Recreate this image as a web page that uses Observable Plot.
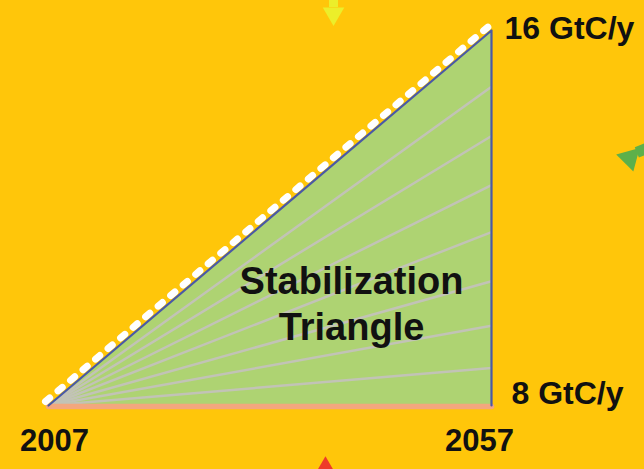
<!DOCTYPE html>
<html><head><meta charset="utf-8">
<script src="https://cdn.jsdelivr.net/npm/d3@7"></script>
<script src="https://cdn.jsdelivr.net/npm/@observablehq/plot@0.6"></script>
<style>html,body{margin:0;padding:0;background:#FFC60A;overflow:hidden}</style>
</head><body><div id="chart"></div>
<script>
// Data
const years = [2007, 2057];
const pathValues = [8, 16];        // emissions path (GtC/y)
const flatValues = [8, 8];         // flat path (GtC/y)
const wedgeEnds = [14.8, 13.75, 12.7, 11.7, 10.65, 9.7, 8.8];
const valueLabels = ["16 GtC/y", "8 GtC/y"];
const yearLabels = ["2007", "2057"];
const centerLabel = "Stabilization\nTriangle";
// decorative pointers from the surrounding diagram (data coords)
const yellowPointer = {x: 2039.17, y: 16.36};
const greenPointer = {x: 2072.6, y: 13.28};
const redPointer = {x: 2038.26, y: 6.72};
const yellowShaft = {x1: 2039.17, y1: 16.8, x2: 2039.17, y2: 16.5};
const greenShaft = {x1: 2073.4, y1: 13.4, x2: 2076.0, y2: 13.6};

const tri = years.map((yr, i) => ({year: yr, lo: flatValues[i], hi: pathValues[i]}));
const edge = [
  {year: years[0], v: pathValues[0]},
  {year: years[1], v: pathValues[1]},
  {year: years[1], v: flatValues[1]}
];
const hyp = years.map((yr, i) => ({year: yr, v: pathValues[i]}));
const wedges = wedgeEnds.map(e => ({x1: years[0], y1: flatValues[0], x2: years[1], y2: e}));

const font = "'Liberation Sans', Arial, sans-serif";
const txt = {fontWeight: "bold", fill: "#111"};

const chart = Plot.plot({
  width: 644,
  height: 469,
  marginLeft: 48,
  marginRight: 153,
  marginTop: 30,
  marginBottom: 64,
  x: {domain: years, axis: null},
  y: {domain: [8, 16], axis: null},
  style: {background: "#FFC60A", fontFamily: font, overflow: "visible"},
  marks: [
    Plot.areaY(tri, {x: "year", y1: "lo", y2: "hi", fill: "#AED372"}),
    Plot.link(wedges, {x1: "x1", y1: "y1", x2: "x2", y2: "y2", stroke: "#C2C3B6", strokeWidth: 2.5}),
    Plot.line(years.map((yr, i) => ({year: yr, v: flatValues[i]})), {x: "year", y: "v", stroke: "#F3A77E", strokeWidth: 5.5, dy: 1}),
    Plot.line(hyp, {x: "year", y: "v", stroke: "white", strokeWidth: 7, strokeDasharray: "5.5,10.9", dx: -3, dy: -4}),
    Plot.line(edge, {x: "year", y: "v", stroke: "#4A59A6", strokeWidth: 2.2}),
    Plot.link([yellowShaft], {x1: "x1", y1: "y1", x2: "x2", y2: "y2", stroke: "#ECEE2A", strokeWidth: 9}),
    Plot.link([greenShaft], {x1: "x1", y1: "y1", x2: "x2", y2: "y2", stroke: "#5DB04A", strokeWidth: 11}),
    Plot.dot([yellowPointer], {x: "x", y: "y", r: 8, fill: "#ECEE2A", symbol: "triangle", rotate: 180}),
    Plot.dot([greenPointer], {x: "x", y: "y", r: 9, fill: "#5DB04A", symbol: "triangle", rotate: -75}),
    Plot.dot([redPointer], {x: "x", y: "y", r: 6, fill: "#EE3B2A", symbol: "triangle", rotate: 0}),
    Plot.text([{x: years[1], y: pathValues[1], t: valueLabels[0]}], {x: "x", y: "y", text: "t", textAnchor: "start", dx: 13, dy: -2, fontSize: 32, ...txt}),
    Plot.text([{x: years[1], y: flatValues[1], t: valueLabels[1]}], {x: "x", y: "y", text: "t", textAnchor: "start", dx: 20, dy: -12, fontSize: 32, ...txt}),
    Plot.text([{x: years[0], y: flatValues[0], t: yearLabels[0]}], {x: "x", y: "y", text: "t", dx: 6, dy: 36, fontSize: 31, ...txt}),
    Plot.text([{x: years[1], y: flatValues[1], t: yearLabels[1]}], {x: "x", y: "y", text: "t", dx: -12, dy: 36, fontSize: 31, ...txt}),
    Plot.text([{x: 2041.2, y: 10.2, t: centerLabel}], {x: "x", y: "y", text: "t", fontSize: 38, lineHeight: 1.2, ...txt})
  ]
});
document.getElementById("chart").appendChild(chart);
</script>
</body></html>
